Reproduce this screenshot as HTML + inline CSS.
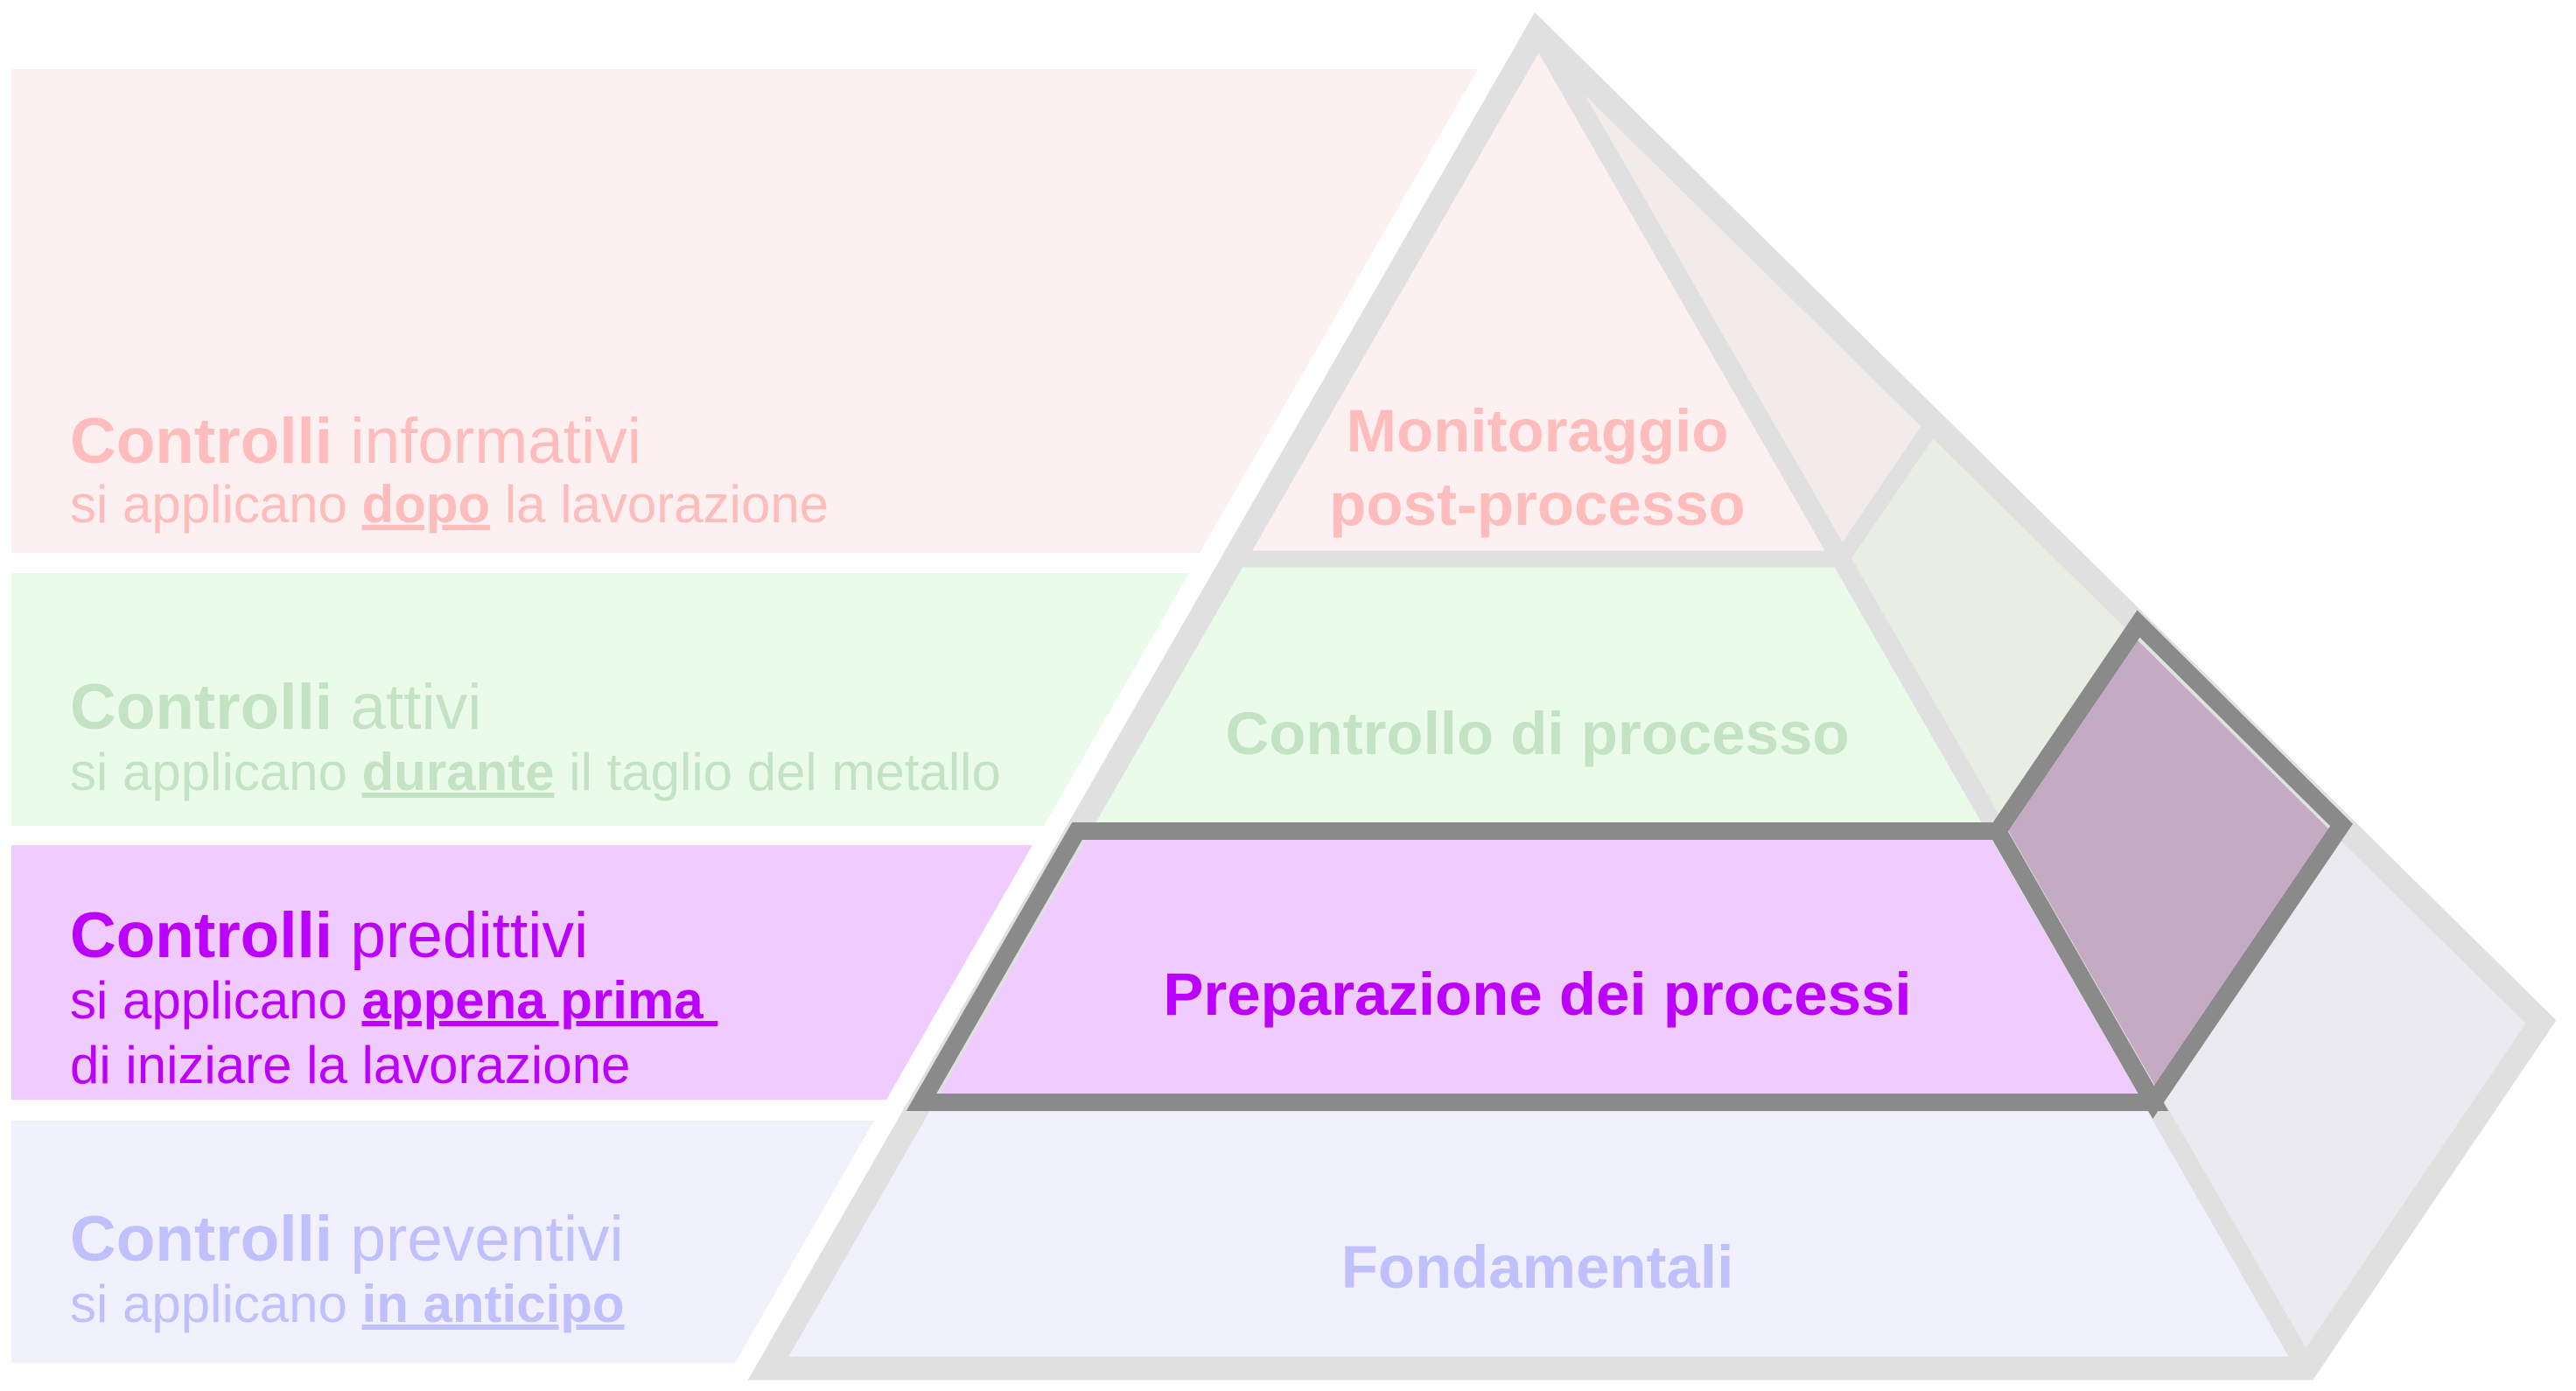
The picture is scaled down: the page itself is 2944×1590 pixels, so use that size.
<!DOCTYPE html>
<html><head><meta charset="utf-8"><style>
html,body{margin:0;padding:0;background:#fff;}
svg{display:block;}
text{font-family:"Liberation Sans",Arial,sans-serif;}
</style></head><body>
<svg width="2944" height="1590" viewBox="0 0 2944 1590" xmlns="http://www.w3.org/2000/svg">
<polygon points="13,79 1689,79 1371,632 13,632" fill="#fdf0f0"/>
<polygon points="13,655 1359,655 1193,944 13,944" fill="#eafbea"/>
<polygon points="13,966 1180,966 1013,1257 13,1257" fill="#f0cbfd"/>
<polygon points="13,1281 999,1281 840,1558 13,1558" fill="#f1f1fd"/>

<polygon points="1757,36 2104,639 1410,639" fill="#fdf0f0"/>
<polygon points="1410,639 2104,639 2283,950 1231,950" fill="#eafbea"/>
<polygon points="1231,950 2283,950 2461,1260 1053,1260" fill="#f0cbfd"/>
<polygon points="1053,1260 2461,1260 2636,1564 878,1564" fill="#f1f1fd"/>
<polygon points="1757,36 2210,483 2104,639" fill="#f3eaea"/>
<polygon points="2210,483 2444,713 2283,950 2104,639" fill="#e8efe2"/>
<polygon points="2444,713 2676,943 2461,1260 2283,950" fill="#c3abc4"/>
<polygon points="2676,943 2904,1168 2636,1564 2461,1260" fill="#ebeaf0"/>

<g fill="none" stroke="#e0e0e0" stroke-linejoin="miter" stroke-miterlimit="10">
<polygon points="1757,36 2904,1168 2636,1564 878,1564" stroke-width="27"/>
<line x1="1757" y1="36" x2="2636" y2="1564" stroke-width="22"/>
<line x1="1410" y1="639" x2="2104" y2="639" stroke-width="19"/>
<line x1="2104" y1="639" x2="2210" y2="483" stroke-width="19"/>
</g>
<g fill="none" stroke="#8a8a8a" stroke-linejoin="miter" stroke-miterlimit="10" stroke-width="20">
<polygon points="1231,950 2283,950 2461,1260 1053,1260"/>
<polygon points="2444,713 2676,943 2461,1260 2283,950"/>
</g>

<g font-size="73">
<text x="80" y="529" fill="#ffbcbc"><tspan font-weight="bold">Controlli</tspan> informativi</text>
<text x="80" y="833" fill="#c4e3c4"><tspan font-weight="bold">Controlli</tspan> attivi</text>
<text x="80" y="1094" fill="#bb00ff"><tspan font-weight="bold">Controlli</tspan> predittivi</text>
<text x="80" y="1441" fill="#c0c0ff"><tspan font-weight="bold">Controlli</tspan> preventivi</text>
</g>
<g font-size="60">
<text x="80" y="597" fill="#ffbcbc">si applicano <tspan font-weight="bold" text-decoration="underline">dopo</tspan> la lavorazione</text>
<text x="80" y="903" fill="#c4e3c4">si applicano <tspan font-weight="bold" text-decoration="underline">durante</tspan> il taglio del metallo</text>
<text x="80" y="1164" fill="#bb00ff">si applicano <tspan font-weight="bold" text-decoration="underline">appena prima&#160;</tspan></text>
<text x="80" y="1238" fill="#bb00ff">di iniziare la lavorazione</text>
<text x="80" y="1511" fill="#c0c0ff">si applicano <tspan font-weight="bold" text-decoration="underline">in anticipo</tspan></text>
</g>

<g font-size="69" font-weight="bold" text-anchor="middle">
<text x="1757" y="516" fill="#ffbcbc">Monitoraggio</text>
<text x="1757" y="600" fill="#ffbcbc">post-processo</text>
<text x="1757" y="862" fill="#c4e3c4">Controllo di processo</text>
<text x="1757" y="1160" fill="#bb00ff">Preparazione dei processi</text>
<text x="1757" y="1472" fill="#c0c0ff">Fondamentali</text>
</g>
</svg>
</body></html>
